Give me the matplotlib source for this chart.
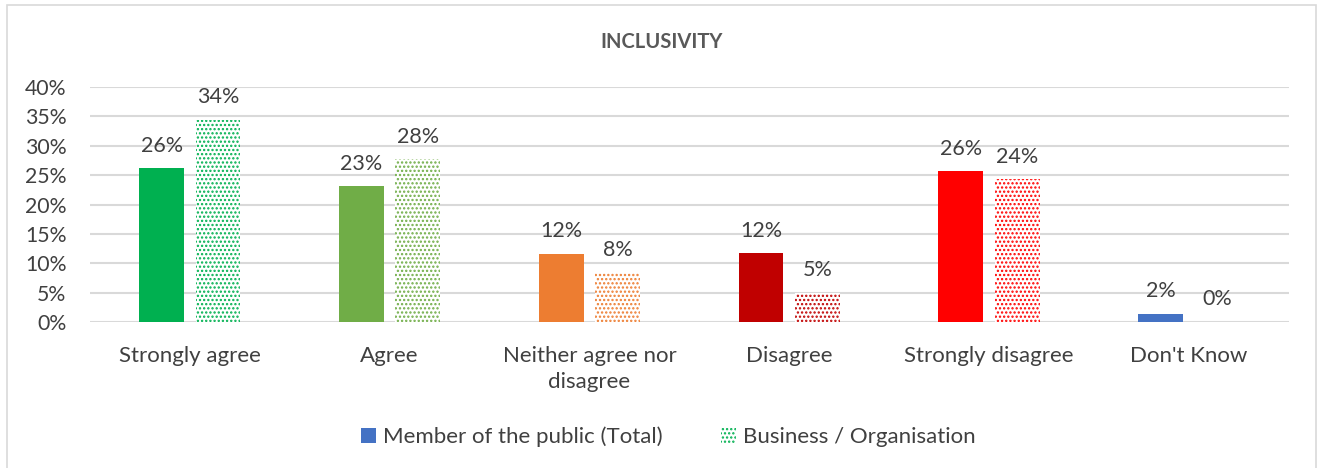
import matplotlib
matplotlib.use("Agg")
import matplotlib.pyplot as plt
from matplotlib.patches import Patch, Rectangle
import numpy as np

categories = ["Strongly agree", "Agree", "Neither agree nor\ndisagree",
              "Disagree", "Strongly disagree", "Don't Know"]
public_values = [26.2, 23.1, 11.6, 11.7, 25.7, 1.4]
business_values = [34.4, 27.7, 8.4, 5.0, 24.3, 0.0]
public_labels = ["26%", "23%", "12%", "12%", "26%", "2%"]
business_labels = ["34%", "28%", "8%", "5%", "24%", "0%"]
category_colors = ["#00B050", "#70AD47", "#ED7D31", "#C00000", "#FF0000", "#4472C4"]
series_names = ["Member of the public (Total)", "Business / Organisation"]
y_ticks = [0, 5, 10, 15, 20, 25, 30, 35, 40]

plt.rcParams["font.family"] = ["Lato", "DejaVu Sans"]
plt.rcParams["hatch.linewidth"] = 1.1

fig = plt.figure(figsize=(13.23, 4.68), dpi=100)
ax = fig.add_axes([0.068, 0.312, 0.906, 0.502])

# chart area border
fig.patches.append(Rectangle((7 / 1323, -0.05), 1309 / 1323, 1.05 - 5 / 468,
                             transform=fig.transFigure, fill=False,
                             edgecolor="#D9D9D9", linewidth=1.2))

x = np.arange(len(categories))
w = 0.225
off = 0.141

for i in range(len(categories)):
    ax.bar(x[i] - off, public_values[i], w, color=category_colors[i], linewidth=0, zorder=3)
    ax.bar(x[i] + off, business_values[i], w, facecolor="white",
           edgecolor=category_colors[i], hatch="....", linewidth=0, zorder=3)
    ax.annotate(public_labels[i], (x[i] - off, public_values[i]), xytext=(0, 9),
                textcoords="offset points", ha="center", va="bottom",
                fontsize=15.5, color="#404040")
    ax.annotate(business_labels[i], (x[i] + off, business_values[i]), xytext=(0, 9),
                textcoords="offset points", ha="center", va="bottom",
                fontsize=15.5, color="#404040")

ax.set_xlim(-0.5, len(categories) - 0.5)
ax.set_ylim(0, 40)
ax.set_yticks(y_ticks)
ax.set_yticklabels([f"{t}%" for t in y_ticks])
ax.set_xticks(x)
ax.set_xticklabels(categories, fontsize=16, color="#404040", linespacing=1.42)
ax.tick_params(axis="y", labelsize=15.3, colors="#404040", length=0, pad=17)
ax.tick_params(axis="x", length=0, pad=17)
ax.yaxis.grid(True, color="#D9D9D9", linewidth=1.5, zorder=0)
for s in ax.spines.values():
    s.set_visible(False)

fig.text(0.5, 0.91, "INCLUSIVITY", ha="center", va="center",
         fontsize=14.5, fontweight="bold", color="#595959")

handles = [Patch(facecolor="#4472C4", linewidth=0),
           Patch(facecolor="white", edgecolor="#00B050", hatch="....", linewidth=0)]
fig.legend(handles, series_names, loc="center", bbox_to_anchor=(0.505, 0.066),
           ncol=2, frameon=False, fontsize=16, labelcolor="#404040",
           handlelength=0.7, handleheight=0.7, handletextpad=0.3, columnspacing=2.6)

fig.savefig("out.png", dpi=100)
